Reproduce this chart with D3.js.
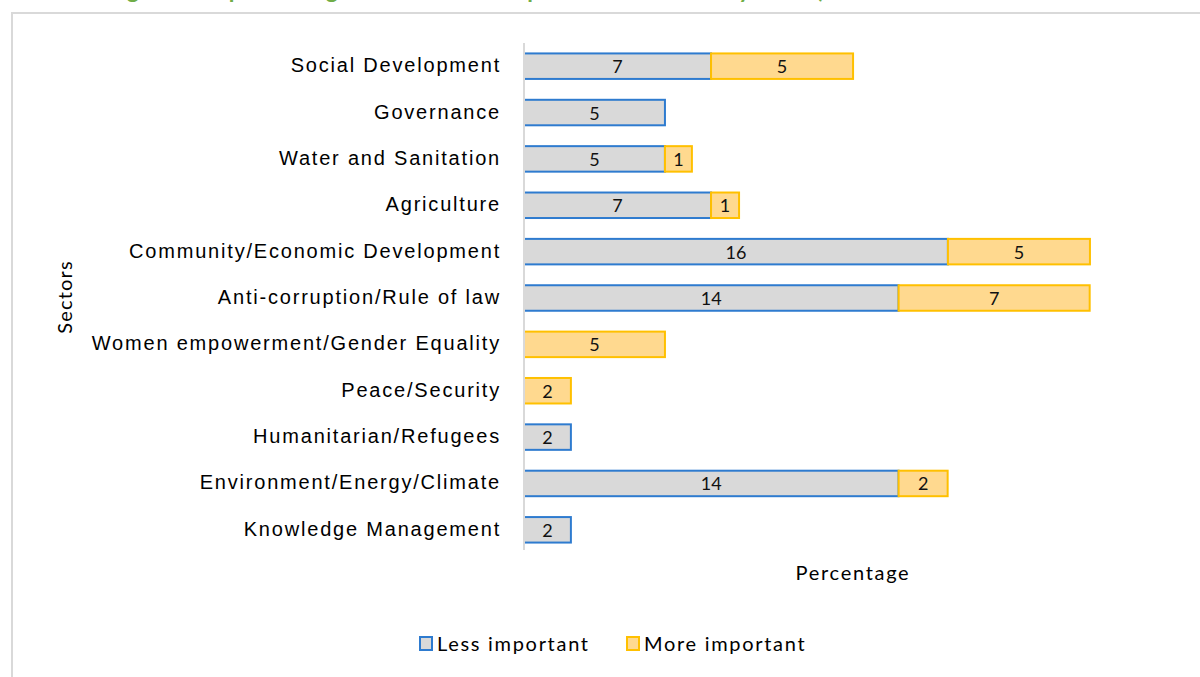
<!DOCTYPE html>
<html lang="en">
<head>
  <meta charset="UTF-8">
  <title>Sectors by importance</title>
  <script src="https://d3js.org/d3.v7.min.js"></script>
  <style>
    body {
      margin: 0;
      background: white;
      font-family: Lato, "Open Sans", sans-serif;
    }
    .cat text {
      font-size: 20px;
      fill: #000;
      letter-spacing: 1.8px;
    }
    .val {
      font-size: 18px;
      fill: #111;
      text-anchor: middle;
    }
    .ttl {
      font-size: 20px;
      fill: #000;
      letter-spacing: 1.7px;
    }
  </style>
</head>
<body>
  <div id="chart"></div>

  <script>
    // data (percent of responses, labels rounded)
    const sectors = [
      "Social Development", "Governance", "Water and Sanitation", "Agriculture",
      "Community/Economic Development", "Anti-corruption/Rule of law",
      "Women empowerment/Gender Equality", "Peace/Security",
      "Humanitarian/Refugees", "Environment/Energy/Climate", "Knowledge Management"
    ];
    const lessImportant = [6.94, 5.23, 5.23, 6.94, 15.73, 13.9, 0, 0, 1.74, 13.9, 1.74];
    const moreImportant = [5.27, 0, 1.0, 1.04, 5.27, 7.09, 5.23, 1.74, 0, 1.82, 0];
    const seriesNames = ["Less important", "More important"];

    const width = 1200, height = 677;
    const svg = d3.select("#chart").append("svg")
      .attr("width", width)
      .attr("height", height);

    // caption, cut off at the top edge as in the source
    svg.append("text")
      .attr("x", 108)
      .attr("y", -2)
      .attr("fill", "#70ad47")
      .style("font-weight", "bold")
      .style("font-size", "23px")
      .text("Figure 8: Importance given to GSM in corporate information by sector)");

    // chart frame
    svg.append("path")
      .attr("d", `M12,${height} V13 H${width}`)
      .attr("fill", "none")
      .attr("stroke", "#d9d9d9")
      .attr("stroke-width", 2);

    const x0 = 524;
    const x = d3.scaleLinear().domain([0, 22]).range([x0, x0 + 22 * 26.95]);
    const y = d3.scaleBand().domain(sectors).range([43, 553]).paddingInner(0.45).paddingOuter(0.225);

    const rows = sectors.map((s, i) => ({ s, less: lessImportant[i], more: moreImportant[i] }));
    const stack = d3.stack().keys(["less", "more"])(rows);
    const fills = ["#d9d9d9", "#ffd98f"];
    const strokes = ["#2e7bcf", "#ffc000"];

    stack.forEach((layer, k) => {
      const g = svg.append("g");
      layer.forEach((d, i) => {
        const w = x(d[1]) - x(d[0]);
        if (w <= 0) return;
        g.append("rect")
          .attr("x", x(d[0]))
          .attr("y", y(sectors[i]))
          .attr("width", w)
          .attr("height", y.bandwidth())
          .attr("fill", fills[k])
          .attr("stroke", strokes[k])
          .attr("stroke-width", 2);
        g.append("text")
          .attr("class", "val")
          .attr("x", (x(d[0]) + x(d[1])) / 2)
          .attr("y", y(sectors[i]) + y.bandwidth() / 2 + 7)
          .text(Math.round(d[1] - d[0]));
      });
    });

    // category axis
    const axis = svg.append("g")
      .attr("class", "cat")
      .attr("transform", `translate(${x0},0)`)
      .call(d3.axisLeft(y).tickSize(0).tickPadding(23));
    axis.select(".domain")
      .attr("stroke", "#d9d9d9")
      .attr("stroke-width", 2)
      .attr("d", `M0,43 V550`);
    axis.selectAll(".tick text").attr("dy", "0.3em");

    // axis titles
    svg.append("text")
      .attr("class", "ttl")
      .attr("transform", "translate(72,297) rotate(-90)")
      .attr("text-anchor", "middle")
      .style("letter-spacing", "1.2px")
      .text("Sectors");

    svg.append("text")
      .attr("class", "ttl")
      .attr("x", 853)
      .attr("y", 580)
      .attr("text-anchor", "middle")
      .text("Percentage");

    // legend
    const legendX = [420, 627];
    seriesNames.forEach((name, k) => {
      svg.append("rect")
        .attr("x", legendX[k])
        .attr("y", 637)
        .attr("width", 12)
        .attr("height", 13)
        .attr("fill", fills[k])
        .attr("stroke", strokes[k])
        .attr("stroke-width", 2);
      svg.append("text")
        .attr("class", "ttl")
        .attr("x", legendX[k] + 17)
        .attr("y", 651)
        .text(name);
    });
  </script>
</body>
</html>
